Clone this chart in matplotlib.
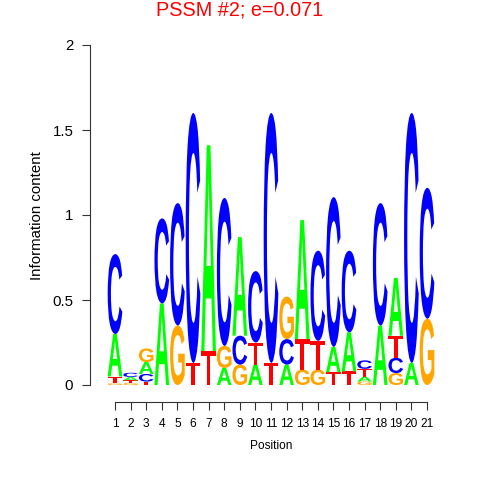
import matplotlib
matplotlib.use("Agg")
import matplotlib.pyplot as plt
from matplotlib.textpath import TextPath
from matplotlib.patches import PathPatch
from matplotlib.font_manager import FontProperties
from matplotlib.transforms import Affine2D

# Information content (bits) per base at each position 1..21
positions = list(range(1, 22))
bases = ["A", "C", "G", "T"]
height_A = [0.25, 0.02, 0.07, 0.48, 0, 0, 1.21, 0.10, 0.58, 0.12, 0, 0.12, 0.70, 0, 0.15, 0.23, 0.03, 0.35, 0.34, 0.13, 0]
height_C = [0.47, 0.025, 0.045, 0.50, 0.72, 1.47, 0, 0.87, 0.17, 0.42, 1.47, 0.15, 0, 0.53, 0.88, 0.48, 0.05, 0.72, 0.09, 1.47, 0.77]
height_G = [0.01, 0.012, 0.08, 0, 0.35, 0, 0, 0.13, 0.12, 0, 0, 0.25, 0.09, 0.09, 0, 0, 0.02, 0, 0.07, 0, 0.39]
height_T = [0.04, 0.015, 0.02, 0, 0, 0.13, 0.20, 0, 0, 0.13, 0.13, 0, 0.18, 0.17, 0.075, 0.08, 0.045, 0, 0.13, 0, 0]
colors = {"A": "#00FF00", "C": "#0000FF", "G": "#FFA500", "T": "#FF0000"}

plt.rcParams["font.family"] = ["Liberation Sans", "DejaVu Sans"]
letter_font = FontProperties(family="Liberation Sans", weight="bold")

fig = plt.figure(figsize=(4.8, 4.8), dpi=100)
ax = fig.add_axes([90 / 480, 78 / 480, 350 / 480, 357 / 480])
ax.set_xlim(1 + (90 - 115) / 15.6, 1 + (440 - 115) / 15.6)
ax.set_ylim(-0.1, 2)


def draw_letter(ch, xc, y0, h, w=0.94):
    tp = TextPath((0, 0), ch, size=1, prop=letter_font)
    ext = tp.get_extents()
    tr = (Affine2D().translate(-ext.x0, -ext.y0)
          .scale(w / ext.width, h / ext.height)
          .translate(xc - w / 2, y0))
    ax.add_patch(PathPatch(tr.transform_path(tp), facecolor=colors[ch],
                           edgecolor="none"))


table = {"A": height_A, "C": height_C, "G": height_G, "T": height_T}
for i, p in enumerate(positions):
    stack = sorted(((table[b][i], b) for b in bases), key=lambda t: t[0])
    y = 0
    for h, b in stack:
        if h > 0:
            draw_letter(b, p, y, h)
            y += h

for s in ["top", "right"]:
    ax.spines[s].set_visible(False)
ax.spines["left"].set_bounds(0, 2)
ax.spines["bottom"].set_bounds(1, 21)
for s in ["left", "bottom"]:
    ax.spines[s].set_color("#333333")
    ax.spines[s].set_linewidth(0.8)

ax.set_yticks([0, 0.5, 1, 1.5, 2])
ax.set_yticklabels(["0", "0.5", "1", "1.5", "2"])
ax.set_xticks(positions)
ax.tick_params(axis="both", length=5.5, width=0.8, color="#333333",
               labelcolor="black")
ax.tick_params(axis="y", pad=6.5, labelsize=10.8)
ax.tick_params(axis="x", pad=6, labelsize=8.6)

fig.text(37 / 480, 1 - 216 / 480, "Information content", rotation=90,
         ha="center", va="center", fontsize=10.8)
fig.text(271 / 480, 1 - 446 / 480, "Position", ha="center", va="center",
         fontsize=8.6)
fig.text(0.5, 1 - 10 / 480, "PSSM #2; e=0.071", ha="center", va="center",
         fontsize=14.3, color="red")

fig.savefig("out.png", dpi=100)
